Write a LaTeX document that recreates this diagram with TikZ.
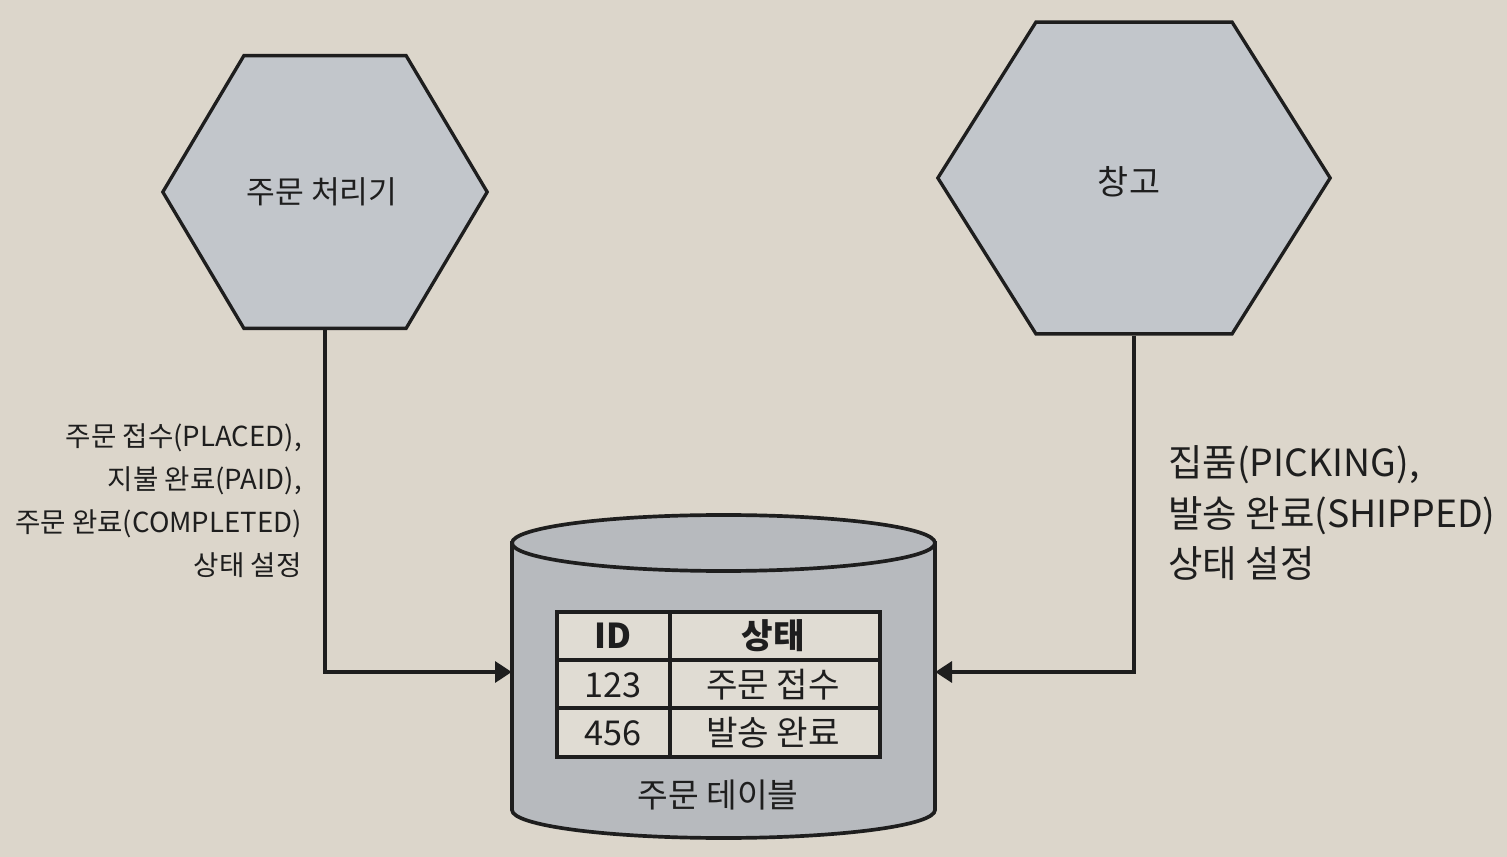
\documentclass[tikz,border=0pt]{standalone}
\usepackage{fontspec}
\setmainfont{Noto Sans CJK KR}
\usetikzlibrary{shapes.geometric,arrows.meta}
\definecolor{bg}{HTML}{DCD6CB}
\definecolor{hexfill}{HTML}{C2C6CB}
\definecolor{cylfill}{HTML}{B7BABE}
\definecolor{tabfill}{HTML}{E0DCD3}
\definecolor{ink}{HTML}{1E1E1E}
\begin{document}
\begin{tikzpicture}[x=0.02cm,y=-0.02cm,
  hexnode/.style={regular polygon, regular polygon sides=6, draw=ink, fill=hexfill,
    line width=1.9pt, inner sep=0pt, transform shape},
  conn/.style={draw=ink, line width=1.8pt, -{Triangle[length=9.5pt,width=12pt]}},
  edge/.style={draw=ink, line width=2.1pt},
  lbl/.style={text=ink, inner sep=0pt},
  cell/.style={text=ink, inner sep=0pt, font=\fontsize{19.5}{23}\selectfont}]
\fill[bg] (0,0) rectangle (1507,857);
\useasboundingbox (0,0) rectangle (1507,857);

% hexagons
\node[hexnode, minimum size=6.3cm, xscale=1.03] (hexL) at (325,192) {};
\node[lbl, font=\fontsize{17.8}{21}\selectfont] (hexLt) at (322,192) {주문 처리기};
\node[hexnode, minimum size=7.2cm, xscale=1.09] (hexR) at (1134,178) {};
\node[lbl, font=\fontsize{19.2}{23}\selectfont] (hexRt) at (1129,182) {창고};

% cylinder
\path[edge, fill=cylfill] (512,543) -- (512,810)
  .. controls (512,825.5) and (606.7,838) .. (723.5,838)
  .. controls (840.3,838) and (935,825.5) .. (935,810) -- (935,543) -- cycle;
\path[edge, fill=cylfill] (723.5,543) ellipse [x radius=211.5, y radius=28];
\node[inner sep=0pt, minimum width=8.46cm, minimum height=5cm] (db) at (723.5,672) {};

% table
\path[edge, fill=tabfill] (557,612) rectangle (880,757);
\draw[edge] (557,660) -- (880,660);
\draw[edge] (557,708) -- (880,708);
\draw[edge] (670,612) -- (670,757);
\node[cell, font=\fontsize{19.5}{23}\selectfont\bfseries] (h1) at (613,636) {ID};
\node[cell, font=\fontsize{19.5}{23}\selectfont\bfseries] (h2) at (773,636) {상태};
\node[cell] (r1a) at (613,685) {123};
\node[cell] (r1b) at (773,685) {주문 접수};
\node[cell] (r2a) at (613,733) {456};
\node[cell] (r2b) at (773,733) {발송 완료};
\node[lbl, font=\fontsize{19}{23}\selectfont] (dbt) at (718,795) {주문 테이블};

% connectors
\draw[conn] (hexL.south) |- (db.west);
\draw[conn] (hexR.south) |- (db.east);

% labels
\node[lbl, anchor=east, align=right, font=\fontsize{15.7}{24.5}\selectfont] (labL) at (302,501)
  {주문 접수(PLACED),\\지불 완료(PAID),\\주문 완료(COMPLETED)\\상태 설정};
\node[lbl, anchor=west, align=left, font=\fontsize{21.3}{28.5}\selectfont] (labR) at (1168,513)
  {집품(PICKING),\\발송 완료(SHIPPED)\\상태 설정};
\end{tikzpicture}
\end{document}
